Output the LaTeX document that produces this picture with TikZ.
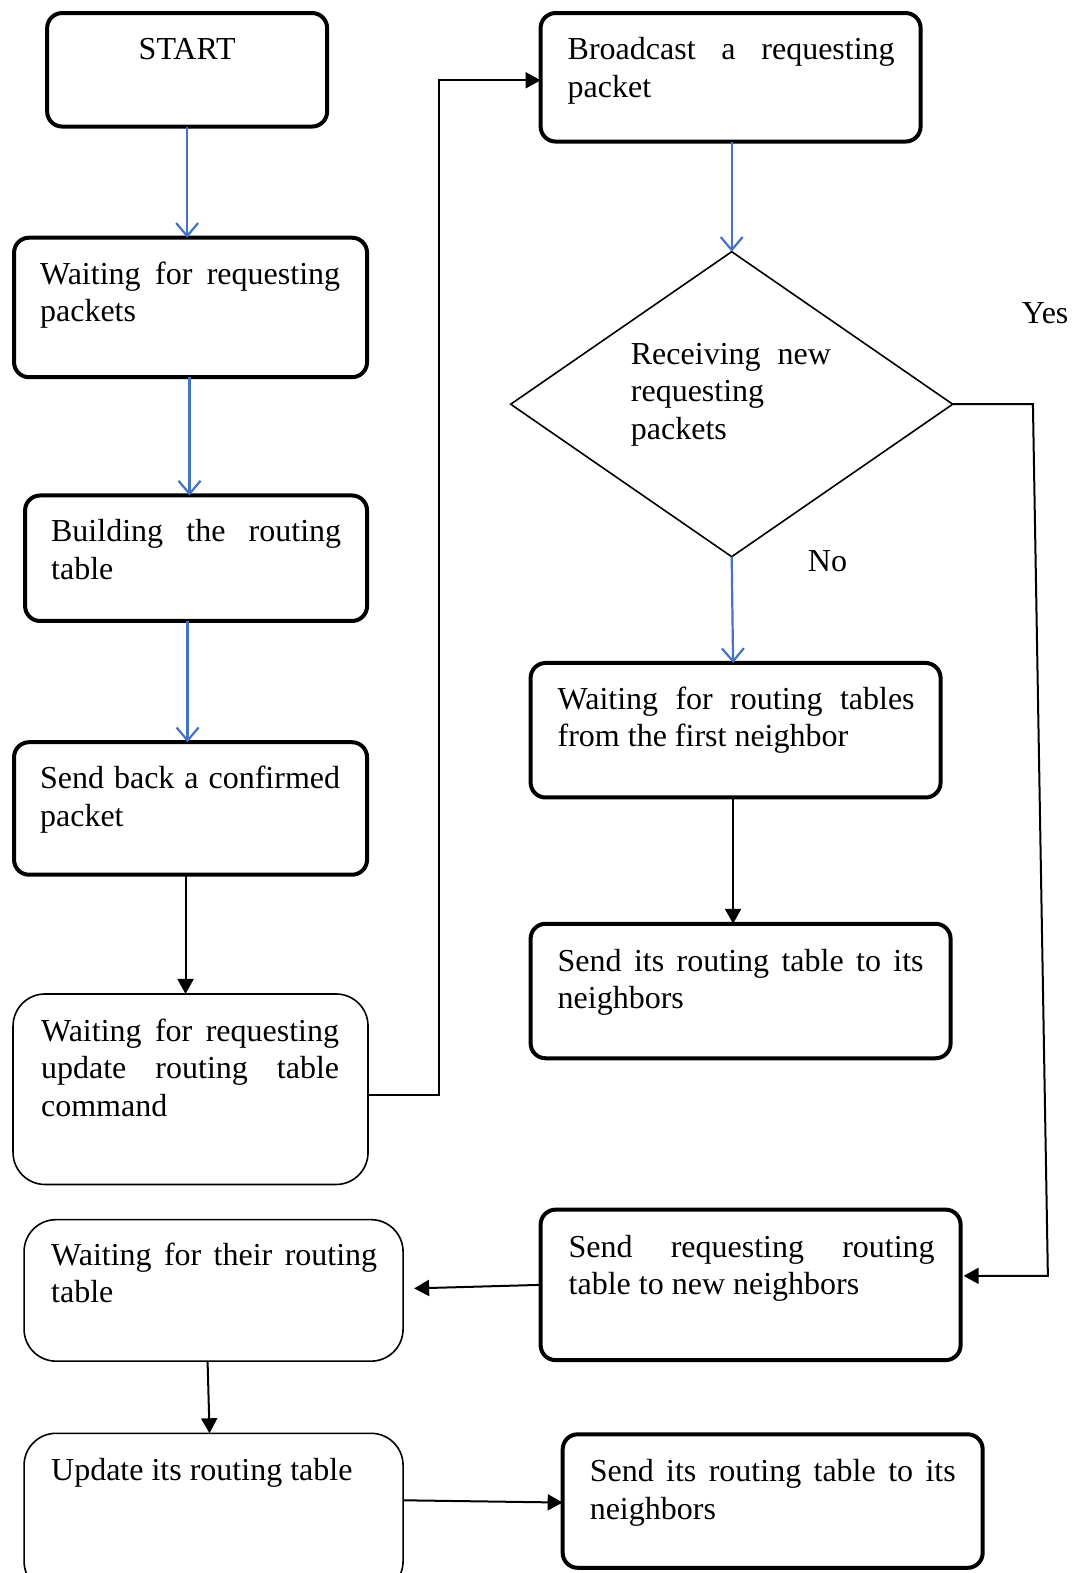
\documentclass[tikz,border=0pt]{standalone}
\usepackage{fontspec}
\setmainfont{Liberation Serif}
\usetikzlibrary{arrows.meta,shapes.geometric}
\definecolor{flowblue}{RGB}{68,114,196}
\tolerance=10000
\hbadness=10000
\hyphenpenalty=10000

\begin{document}
\begin{tikzpicture}[x=1.003pt,y=-1.003pt,
  every node/.style={inner sep=0pt, outer sep=0pt},
  boxbase/.style={draw, rectangle, anchor=north west},
  heavybox/.style={boxbase, line width=4pt, rounded corners=15pt},
  lightbox/.style={boxbase, line width=1.6pt, rounded corners=32pt},
  decision/.style={draw, diamond, line width=1.6pt},
  txt/.style={anchor=north west, align=justify, font=\fontsize{32}{37.6}\selectfont},
  lbl/.style={anchor=base, font=\fontsize{32}{37.6}\selectfont},
  blueflow/.style={draw=flowblue, line width=2.2pt, -{Straight Barb[length=13pt,width=22pt]}},
  flow/.style={draw=black, line width=2pt, -{Triangle[length=15pt,width=16pt]}}
]
\useasboundingbox (0,0) rectangle (1071.8,1568.3);
\clip (0,0) rectangle (1071.8,1568.3);

% left column
\node[heavybox, minimum width=280pt, minimum height=113.5pt] (b1) at (47,13) {};
\node[heavybox, minimum width=353pt, minimum height=139.5pt] (b2) at (14,237) {};
\node[heavybox, minimum width=342pt, minimum height=125.5pt] (b3) at (25,494) {};
\node[heavybox, minimum width=353pt, minimum height=132.5pt] (b4) at (14,740) {};
\node[lightbox, minimum width=355pt, minimum height=190.5pt] (b5) at (13,991) {};

% right column
\node[heavybox, minimum width=380pt, minimum height=128.5pt] (b6) at (539,13) {};
\node[decision, minimum width=442pt, minimum height=305pt] (d) at (729.5,403) {};
\node[heavybox, minimum width=410pt, minimum height=134.5pt] (b7) at (529,661) {};
\node[heavybox, minimum width=420pt, minimum height=134.5pt] (b8) at (529,921) {};
\node[heavybox, minimum width=420pt, minimum height=150.5pt] (b9) at (539,1206) {};

% bottom rows
\node[lightbox, minimum width=379pt, minimum height=141.5pt] (b10) at (24,1216) {};
\node[lightbox, minimum width=379pt, minimum height=160pt] (b11) at (24,1429) {};
\node[heavybox, minimum width=420pt, minimum height=133.5pt] (b12) at (561,1430) {};

% box texts
\node[txt, align=center, anchor=north] (t1) at ([yshift=-20pt]b1.north) {\strut START};
\node[txt, text width=300pt] (t2) at ([shift={(26,20)}]b2.north west)
  {\strut Waiting for requesting\linebreak packets};
\node[txt, text width=290pt] (t3) at ([shift={(26,20)}]b3.north west)
  {\strut Building the routing\linebreak table};
\node[txt, text width=300pt] (t4) at ([shift={(26,20)}]b4.north west)
  {\strut Send back a confirmed\linebreak packet};
\node[txt, text width=298pt] (t5) at ([shift={(28,21)}]b5.north west)
  {\strut Waiting for requesting\linebreak update routing table\linebreak command};
\node[txt, text width=327pt] (t6) at ([shift={(27,20)}]b6.north west)
  {\strut Broadcast a requesting\linebreak packet};
\node[txt, text width=200pt] (td) at (629,337)
  {\strut Receiving new\linebreak requesting\newline packets};
\node[txt, text width=357pt] (t7) at ([shift={(27,20)}]b7.north west)
  {\strut Waiting for routing tables\linebreak from the first neighbor};
\node[txt, text width=366pt] (t8) at ([shift={(27,21)}]b8.north west)
  {\strut Send its routing table to its\linebreak neighbors};
\node[txt, text width=366pt] (t9) at ([shift={(28,21)}]b9.north west)
  {\strut Send requesting routing\linebreak table to new neighbors};
\node[txt, text width=326pt] (t10) at ([shift={(27,19)}]b10.north west)
  {\strut Waiting for their routing\linebreak table};
\node[txt] (t11) at ([shift={(27,21)}]b11.north west)
  {\strut Update its routing table};
\node[txt, text width=366pt] (t12) at ([shift={(27,21)}]b12.north west)
  {\strut Send its routing table to its\linebreak neighbors};

% branch labels
\node[lbl] (yes) at (1042,323) {Yes};
\node[lbl] (no) at (825,570) {No};

% connectors, left column
\draw[blueflow] (b1.south) -- (b1.south |- b2.north);
\draw[blueflow] ([xshift=-1pt]b2.south) -- ([xshift=-1pt]b2.south |- b3.north);
\draw[blueflow] ([xshift=-8.5pt]b3.south) -- ([xshift=-8.5pt]b3.south |- b4.north);
\draw[flow] ([xshift=-5pt]b4.south) -- ([xshift=-5pt]b4.south |- b5.north);
\draw[flow] ([yshift=-6pt]b5.east) -- ++(71,0) |- ([yshift=-3pt]b6.west);

% connectors, right column
\draw[blueflow] (d.north |- b6.south) -- (d.north);
\draw[blueflow] (d.south) -- ([xshift=-2.5pt]b7.north);
\draw[flow] ([xshift=-2.5pt]b7.south) -- ([xshift=-2.5pt]b7.south |- b8.north);
\draw[flow] (d.east) -- ++(80,0) -- ([shift={(87,-9)}]b9.east) -- ([shift={(3,-9)}]b9.east);

% connectors, bottom rows
\draw[flow] (b9.west) -- ([shift={(11,-2)}]b10.east);
\draw[flow] ([xshift=-6pt]b10.south) -- ([xshift=-4pt]b11.north);
\draw[flow] ([yshift=13pt]b11.east) -- ([yshift=-1.5pt]b12.west);
\end{tikzpicture}
\end{document}
